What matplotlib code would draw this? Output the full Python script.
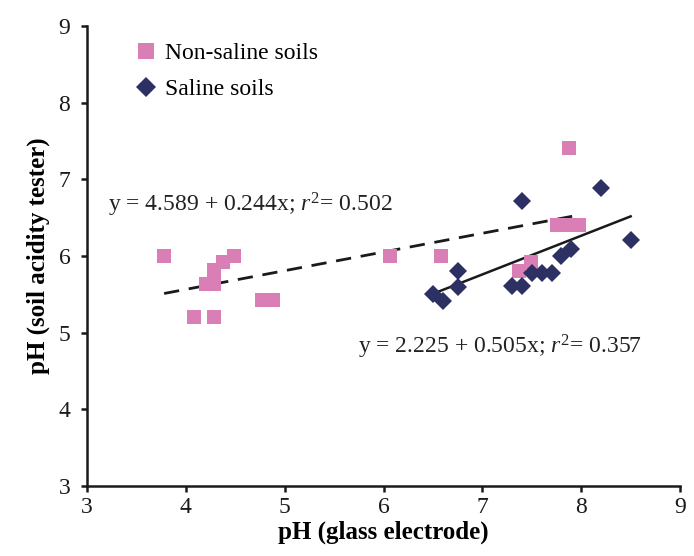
import numpy as np
from matplotlib import pyplot as plt
from matplotlib import rcParams

rcParams['font.family'] = ['Liberation Serif', 'DejaVu Serif']
rcParams['mathtext.fontset'] = 'custom'
rcParams['mathtext.rm'] = 'Liberation Serif'
rcParams['mathtext.it'] = 'Liberation Serif:italic'

# non-saline soils
ns_x = [3.78, 4.08, 4.28, 4.20, 4.28, 4.28, 4.38, 4.49, 4.77, 4.88,
        6.07, 6.58, 7.37, 7.49, 7.76, 7.85, 7.92, 7.98, 7.88]
ns_y = [6.0, 5.21, 5.21, 5.63, 5.63, 5.82, 5.92, 6.0, 5.42, 5.42,
        6.0, 6.0, 5.81, 5.92, 6.4, 6.4, 6.4, 6.4, 7.41]

# saline soils
s_x = [6.5, 6.6, 6.75, 6.75, 7.3, 7.4, 7.4, 7.5, 7.6, 7.7, 7.8, 7.9, 8.2, 8.5]
s_y = [5.5, 5.41, 5.8, 5.6, 5.61, 5.61, 6.72, 5.78, 5.78, 5.78, 6.0, 6.09, 6.89, 6.21]

# fits: intercept, slope, r2
ns_fit = (4.589, 0.244, 0.502)
s_fit = (2.225, 0.505, 0.357)

pink = '#DA7FB5'
navy = '#2D3063'

fig = plt.figure(figsize=(6.94, 5.56), dpi=100)
ax = fig.add_axes([0.1254, 0.126, 0.8545, 0.827])

ax.plot(ns_x, ns_y, 's', color=pink, markersize=10.5, markeredgewidth=0,
        label='Non-saline soils', zorder=3)
ax.plot(s_x, s_y, 'D', color=navy, markersize=9.2, markeredgewidth=0,
        label='Saline soils', zorder=3)

xx = np.array([min(ns_x), 7.92])
ax.plot(xx, ns_fit[0] + ns_fit[1] * xx, '--', color='#1a1a1a', lw=2,
        dashes=(5.5, 3.5), zorder=2)
xx = np.array([min(s_x), max(s_x)])
ax.plot(xx, s_fit[0] + s_fit[1] * xx, '-', color='#1a1a1a', lw=1.8, zorder=2)

ax.text(3.21, 6.67, r'y = %.3f + %.3fx; $\mathit{r}^{2}$= %.3f' % ns_fit,
        fontsize=17, va='center', ha='left', color='#222222')
ax.text(5.74, 4.81, r'y = %.3f + %.3fx; $\mathit{r}^{2}$= %.3f' % s_fit,
        fontsize=17, va='center', ha='left', color='#222222')

ax.set_xlim(3, 9)
ax.set_ylim(3, 9)
ax.set_xticks(range(3, 10))
ax.set_yticks(range(3, 10))
ax.spines['top'].set_visible(False)
ax.spines['right'].set_visible(False)
for s in ['left', 'bottom']:
    ax.spines[s].set_linewidth(1.8)
    ax.spines[s].set_color('#1a1a1a')
ax.tick_params(direction='out', length=4, width=1.8, labelsize=17,
               colors='#1a1a1a', pad=4)
ax.tick_params(axis='y', pad=8)

ax.set_xlabel('pH (glass electrode)', fontsize=18, fontweight='bold', labelpad=2)
ax.set_ylabel('pH (soil acidity tester)', fontsize=18, fontweight='bold', labelpad=6)

ax.legend(loc='upper left', bbox_to_anchor=(0.04, 1.01), frameon=False,
          fontsize=17, handletextpad=0.2, labelspacing=0.62, handlelength=1.2,
          markerscale=1.1)

fig.savefig('out.png', dpi=100)
